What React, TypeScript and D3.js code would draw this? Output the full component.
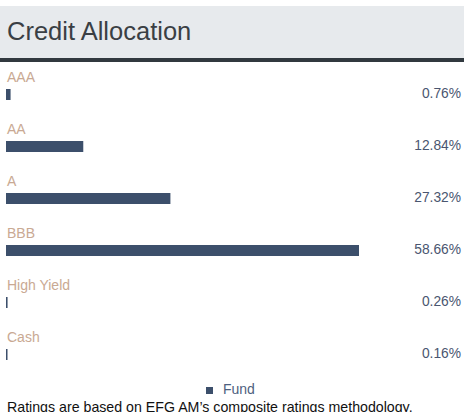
import React from "react";
import * as d3 from "d3";

const categories = ["AAA", "AA", "A", "BBB", "High Yield", "Cash"];
const fundValues = [0.76, 12.84, 27.32, 58.66, 0.26, 0.16];
const valueLabels = ["0.76%", "12.84%", "27.32%", "58.66%", "0.26%", "0.16%"];
const seriesName = "Fund";
const title = "Credit Allocation";
const footnote = "Ratings are based on EFG AM\u2019s composite ratings methodology.";

const W = 464;
const H = 412;
const FONT = "'Liberation Sans', Arial, Helvetica, sans-serif";
const BAR = "#3c4f6b";

export default function App() {
  const x = d3.scaleLinear().domain([0, 58.66]).range([0, 353]);
  const y = d3.scaleBand<string>().domain(categories).range([70, 70 + 52 * categories.length]);
  const left = 6;
  return (
    <svg
      width={W}
      height={H}
      style={{ position: "absolute", left: 0, top: 0, display: "block" }}
      fontFamily={FONT}
    >
      <rect x={0} y={0} width={W} height={H} fill="#ffffff" />
      <rect x={0} y={6} width={W} height={52} fill="#e7eaed" />
      <rect x={0} y={58} width={W} height={4} fill="#31393f" />
      <text x={7} y={40} fontSize={25.5} fill="#3a3f44">
        {title}
      </text>
      {categories.map((c, i) => {
        const ry = y(c) as number;
        return (
          <g key={c}>
            <text x={left + 1} y={ry + 12} fontSize={14} fill="#c9a993">
              {c}
            </text>
            <rect x={left} y={ry + 19} width={Math.max(1.5, x(fundValues[i]))} height={11} fill={BAR} />
            <text x={461} y={ry + 28} fontSize={13.8} fill="#4a5670" textAnchor="end">
              {valueLabels[i]}
            </text>
          </g>
        );
      })}
      <rect x={206} y={387} width={7} height={7} fill={BAR} />
      <text x={223} y={394} fontSize={14} fill="#4d5f80">
        {seriesName}
      </text>
      <text x={7} y={412} fontSize={14.2} fill="#111111">
        {footnote}
      </text>
    </svg>
  );
}
